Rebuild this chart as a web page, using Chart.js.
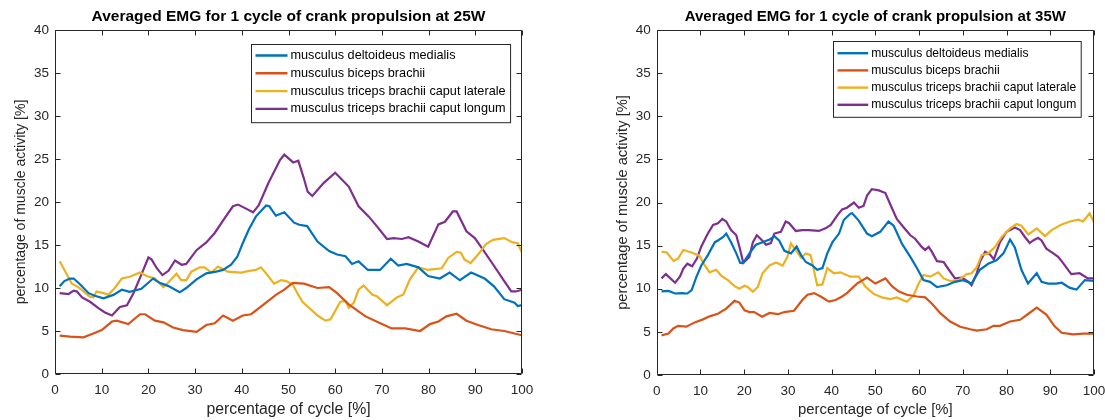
<!DOCTYPE html>
<html>
<head>
<meta charset="utf-8">
<title>Averaged EMG</title>
<script src="https://cdn.jsdelivr.net/npm/chart.js@4/dist/chart.umd.min.js"></script>
<style>
  body { margin: 0; background: #fff; }
  .painel { position: absolute; top: 0; height: 420px; }
</style>
</head>
<body>
<div class="painel" style="left:0;width:552px"><canvas id="grafico25"></canvas></div>
<div class="painel" style="left:552px;width:553px"><canvas id="grafico35"></canvas></div>
<script>
// labels
const nomesMusculos = [
    "musculus deltoideus medialis",
    "musculus biceps brachii",
    "musculus triceps brachii caput laterale",
    "musculus triceps brachii caput longum"
];
const coresMusculos = ['#0072BD', '#D95319', '#EDB120', '#7E2F8E'];
const ticksX = [0, 10, 20, 30, 40, 50, 60, 70, 80, 90, 100];
const ticksY = [0, 5, 10, 15, 20, 25, 30, 35, 40];

// 25W  [percentage of cycle, activity]
const deltoid25 = [[1,10.2],[2,10.8],[3.2,11.1],[4,11.1],[5.4,10.4],[7.2,9.4],[8.5,9.1],[10.4,8.8],[12.5,9.2],[14.3,9.8],[16,9.55],[18.5,9.9],[21,11.1],[22.4,10.6],[24.2,10.25],[26.7,9.5],[28.1,10],[30.3,11],[32.4,11.7],[34.5,11.9],[36,12.1],[37.7,12.7],[39,13.6],[40.2,15.2],[41.5,16.8],[43,18.3],[45.2,19.6],[45.9,19.5],[47.3,18.4],[49.1,18.8],[51.2,17.6],[52.3,17.35],[54,17.2],[56.2,15.4],[58.7,14.3],[60.4,13.9],[62.2,13.7],[63.6,12.8],[65,13.1],[67,12.1],[69.6,12.1],[71.9,13.4],[73.5,12.6],[75.3,12.8],[77.8,12.4],[79.9,11.4],[82.4,11.1],[84.5,11.8],[86.7,10.9],[89.1,11.8],[92,11.1],[94,10.2],[96.2,8.7],[98.4,8.3],[99.1,7.9],[100,8]];
const biceps25 = [[1,4.47],[3.2,4.35],[6.1,4.27],[8.2,4.7],[10,5.1],[12.2,6.1],[13.2,6.2],[15.7,5.8],[18.2,6.95],[19.3,6.95],[21.4,6.2],[23.2,6],[25.3,5.4],[27.4,5.1],[30.3,4.9],[32.4,5.7],[34.2,5.9],[36,6.8],[38.1,6.2],[40.2,6.8],[42,6.95],[44.5,8],[47.3,9.2],[49.1,9.8],[50.9,10.6],[53.3,10.5],[56.2,10],[58.7,10.1],[60.4,9.4],[62.9,8.1],[66.5,6.7],[69.3,6],[72.1,5.3],[75,5.3],[78.2,5],[80.3,5.8],[82.1,6.1],[83.8,6.7],[86,7],[88.1,6.2],[90.6,5.7],[93.4,5.2],[96.2,5],[100,4.5]];
const lateral25 = [[1,13.1],[2.6,11.5],[3.6,10.5],[5,10.1],[6.1,9.6],[7.4,9],[8.2,8.9],[8.9,9.6],[10.4,9.4],[11.4,9.2],[12.8,10],[14.3,11.1],[16,11.3],[18.2,11.8],[19.6,11.4],[21.4,11.1],[23.2,10.1],[24.2,10.6],[26,11.65],[27,10.95],[28.1,10.9],[29.2,11.9],[31,12.4],[32,12.4],[33.5,11.8],[34.9,12.5],[37,11.9],[39.9,11.8],[41.6,12],[43,12.1],[44.1,12.4],[45.2,11.7],[46.9,10.5],[48.4,10.9],[49.5,10.8],[50.9,10.4],[52,9.3],[53,8.4],[54.8,7.5],[56.2,6.8],[57.9,6.2],[59,6.35],[61.1,8.4],[62.2,8.5],[62.9,7.7],[64,8.3],[65,9.8],[66.1,10.3],[67.9,9.25],[68.9,9.05],[71.1,8],[73.2,8.9],[74.6,9.25],[76,11],[77.8,12.4],[79.9,12.1],[82.8,12.3],[84.2,13.5],[86,14.2],[86.9,14.1],[87.7,13.3],[89,12.9],[90.6,13.9],[92.3,15.1],[93.8,15.6],[96.2,15.8],[98,15.3],[99.1,15.2],[100,14.1]];
const longum25 = [[1,9.4],[2.9,9.3],[4,9.7],[4.7,9.6],[5.8,8.9],[7.5,8.4],[9.3,7.65],[10.7,7.15],[12.2,6.8],[13.9,7.8],[15.4,8],[16.8,9.4],[18.6,11.7],[20,13.55],[20.7,13.3],[21.8,12.3],[23,11.5],[24.3,12],[25.7,13.2],[27.1,12.7],[28.1,12.8],[30.3,14.4],[32.4,15.3],[34.2,16.4],[36.3,18.1],[38.1,19.5],[39.2,19.7],[41,19.2],[42.4,18.8],[43.6,19.6],[45.7,22.2],[48.2,24.9],[49.1,25.5],[51,24.6],[52.1,24.8],[53.2,22.9],[54.1,21.2],[55.1,20.7],[57.5,22.2],[60,23.4],[61.1,22.8],[62.9,21.8],[65,19.5],[67.2,18.3],[68.9,17.2],[71.1,15.7],[72.5,15.8],[74.3,15.7],[75.7,15.9],[77.8,15.4],[79.9,14.8],[82.1,17.4],[83.5,17.7],[85.2,18.9],[86,18.9],[88.1,16.6],[89.9,15.8],[91.6,14.5],[94.1,12.5],[96.2,10.8],[97.7,9.6],[98.7,9.6],[100,9.8]];

// 35W
const deltoid35 = [[1.1,9.7],[2.7,9.75],[4.2,9.45],[5.7,9.5],[7,9.45],[8,9.85],[9.1,11.4],[10.2,12.7],[11.7,13.9],[13.3,15.4],[14,15.6],[15.2,16],[15.9,16.4],[17,15.4],[18.2,14.1],[19.1,13],[19.8,13],[21.2,14.1],[22.7,15.1],[24.2,15.4],[25.8,15.7],[26.9,16.1],[28,15.6],[29.2,14.4],[30.7,14.1],[32,14.9],[33,13.9],[34.1,13.1],[35.6,12.7],[36.7,12.2],[37.9,12.4],[39,14.1],[40.2,15.4],[41.7,16.4],[42.8,18],[44.3,18.7],[44.7,18.75],[46.2,17.9],[48.1,16.4],[49.2,16.1],[51.1,16.6],[53,17.8],[54.2,17.3],[56.1,15.2],[58,13.7],[59.5,12.4],[61,11],[62.5,10.8],[64.1,10.2],[66.3,10.4],[68.2,10.8],[70.1,11],[72,10.6],[73.9,12.2],[75.8,12.9],[77.7,13.3],[79.3,14.1],[80.8,15.7],[81.9,14.8],[83.4,12.2],[84.9,10.6],[86.9,11.8],[88,10.8],[89.5,10.6],[91.4,10.6],[92.6,10.7],[94.5,10.1],[96,9.9],[97.9,11],[100,10.9]];
const biceps35 = [[1.1,4.6],[2.7,4.8],[3.8,5.4],[4.9,5.7],[6.8,5.6],[8.7,6.1],[10.6,6.45],[12.1,6.8],[14,7.1],[15.9,7.7],[17.8,8.6],[18.9,8.4],[20.1,7.5],[21.2,7.3],[22.3,7.3],[24.1,6.75],[25.8,7.2],[27.7,7.05],[29.2,7.3],[31.4,7.45],[33.3,8.7],[34.5,9.3],[36,9.5],[37.5,9.1],[39.4,8.5],[40.9,8.7],[42.4,9.1],[43.5,9.5],[45.8,10.6],[48.1,11.3],[50,10.6],[52.3,11.2],[53.8,10.3],[55.3,9.7],[57.2,9.3],[59.5,9.1],[61.4,9],[62.9,8.3],[64.8,7.2],[67.1,6.2],[69.4,5.6],[71.7,5.3],[73.2,5.15],[75.5,5.3],[77,5.7],[78.5,5.7],[80.8,6.2],[83.1,6.4],[85,7.1],[86.9,7.8],[89.1,7],[91,5.65],[92.6,4.9],[95.2,4.7],[97.5,4.8],[100,4.8]];
const lateral35 = [[1.1,14.3],[2.3,14.2],[3.9,13.2],[4.9,13.5],[6.1,14.5],[8,14.2],[9.8,13.8],[11,12.7],[12.1,11.9],[13.6,12.2],[14.8,11.5],[16.3,11],[17.8,10.3],[18.9,10],[20.1,10.35],[20.8,10.2],[22,9.65],[23.1,10.2],[24.2,11.8],[25.8,12.7],[27.3,13.05],[28.8,12.7],[29.9,13.7],[30.7,15.25],[31.8,14.5],[33,13.6],[34.1,14.1],[35.2,13.9],[36.7,10.4],[37.9,10.5],[39,12.4],[40.5,11.8],[42,11.9],[44.3,11.4],[46.2,11.4],[47.7,10.25],[49.6,9.4],[51.5,9],[53.4,8.8],[54.9,9],[57.2,8.5],[58.7,9.2],[59.9,10.6],[61,11.6],[62.5,11.4],[64.4,11.9],[65.6,11.2],[67.1,10.9],[69,11],[70.9,11.7],[72,11.8],[73.2,12.5],[74.3,13.9],[75.8,14.1],[77.3,14.8],[78.9,16],[80.8,17],[82.3,17.5],[83.4,17.3],[85,16.3],[86.9,17],[88.8,16.1],[90.3,16.8],[92.6,17.45],[94.5,17.8],[96.4,18],[97.5,17.8],[99,18.75],[100,17.7]];
const longum35 = [[1.1,11.2],[2.1,11.7],[4.2,10.7],[5.3,11.4],[6.1,12.35],[7,12.9],[8.1,12.6],[9.2,13.5],[10.2,14.9],[11.7,16.4],[12.9,17.4],[14,17.6],[15,18.1],[15.9,17.8],[17,16.8],[18.2,16.2],[19.1,14.5],[19.8,13],[21.2,13.7],[22,15.4],[22.9,16.2],[23.9,15.7],[25,15.1],[26.1,15.3],[26.9,16.4],[28.4,16.6],[29.5,17.8],[30.3,17.6],[31.8,16.7],[33.3,16.8],[34.8,16.8],[37.1,16.7],[38.6,17],[39.8,17.4],[41.3,18.5],[42.4,19.2],[43.5,19.4],[45.1,20],[46.2,19.4],[47.3,19.6],[48.1,20.8],[49.2,21.55],[50.8,21.4],[52.3,21.1],[53.4,19.8],[54.9,18.1],[56.5,17.1],[58,16.2],[59.1,15.8],[60.6,14.85],[61.4,14.5],[62.2,14.85],[62.9,14.3],[64.1,13.2],[65.6,13.1],[67.1,12],[68.2,11.2],[69.8,11.3],[71.3,10.8],[72,10.4],[73.2,11.8],[73.9,13.1],[75.1,14.3],[76.2,14],[77.1,13.4],[78.5,15.4],[80,16.6],[81.9,17.1],[83.1,16.8],[84.2,16],[85.3,15.3],[86.1,15.6],[87.2,15.9],[88,15.6],[89.1,14.65],[90.7,14.1],[91.8,13.7],[92.9,13],[94.8,11.7],[96.7,11.8],[98.6,11.2],[100,11.2]];

const fonte = '"Liberation Sans", Arial, Helvetica, sans-serif';
const corEixo = '#262626';

// caixa dos eixos com ticks para dentro (estilo MATLAB)
const caixaEixos = {
    id: 'caixaEixos',
    afterDatasetsDraw(chart) {
        const ctx = chart.ctx;
        const a = chart.chartArea;
        const x = chart.scales.x, y = chart.scales.y;
        const l = Math.round(a.left) + 0.5, r = Math.round(a.right) - 0.5;
        const t = Math.round(a.top) + 0.5, b = Math.round(a.bottom) - 0.5;
        ctx.save();
        ctx.strokeStyle = corEixo;
        ctx.lineWidth = 1;
        ctx.beginPath();
        ctx.rect(l, t, r - l, b - t);
        ticksX.forEach(v => {
            const px = Math.round(x.getPixelForValue(v)) + 0.5;
            ctx.moveTo(px, b); ctx.lineTo(px, b - 5);
            ctx.moveTo(px, t); ctx.lineTo(px, t + 5);
        });
        ticksY.forEach(v => {
            const py = Math.round(y.getPixelForValue(v)) + 0.5;
            ctx.moveTo(l, py); ctx.lineTo(l + 5, py);
            ctx.moveTo(r, py); ctx.lineTo(r - 5, py);
        });
        ctx.stroke();
        ctx.restore();
    }
};

// legenda dentro do grafico, canto superior direito
const legendaCaixa = {
    id: 'legendaCaixa',
    afterDraw(chart, args, opts) {
        const ctx = chart.ctx;
        const a = chart.chartArea;
        ctx.save();
        ctx.font = opts.tamanho + 'px ' + fonte;
        var largura = 0;
        chart.data.datasets.forEach(d => { largura = Math.max(largura, ctx.measureText(d.label).width); });
        const w = largura + opts.texto + 5;
        const h = opts.linha * chart.data.datasets.length + 7;
        const bx = Math.round(a.right - opts.direita - w) + 0.5;
        const by = Math.round(a.top + opts.topo) + 0.5;
        ctx.fillStyle = '#fff';
        ctx.fillRect(bx, by, w, h);
        ctx.strokeStyle = corEixo;
        ctx.lineWidth = 1;
        ctx.strokeRect(bx, by, w, h);
        ctx.textBaseline = 'middle';
        chart.data.datasets.forEach((d, i) => {
            const cy = by + opts.primeira + i * opts.linha;
            ctx.strokeStyle = d.borderColor;
            ctx.lineWidth = 2.4;
            ctx.beginPath();
            ctx.moveTo(bx + 4, cy);
            ctx.lineTo(bx + opts.texto - 3, cy);
            ctx.stroke();
            ctx.fillStyle = '#000';
            ctx.fillText(d.label, bx + opts.texto, cy);
        });
        ctx.restore();
    }
};

function montarSeries(series) {
    return series.map((s, i) => ({
        label: nomesMusculos[i],
        data: s.map(p => ({ x: p[0], y: p[1] })),
        borderColor: coresMusculos[i],
        backgroundColor: coresMusculos[i],
        borderWidth: 2.2,
        pointRadius: 0,
        tension: 0,
        fill: false
    }));
}

function montarConfig(series, c) {
    return {
        type: 'line',
        data: { datasets: montarSeries(series) },
        plugins: [caixaEixos, legendaCaixa],
        options: {
            responsive: true,
            maintainAspectRatio: false,
            animation: false,
            events: [],
            layout: { padding: { left: c.padEsq, right: c.padDir, top: 0, bottom: 0 } },
            plugins: {
                legend: { display: false },
                tooltip: { enabled: false },
                title: {
                    display: true,
                    text: c.titulo,
                    fullSize: false,
                    color: '#000',
                    font: { family: fonte, size: c.fTitulo, weight: 'bold', lineHeight: 1.2 },
                    padding: { top: 7.5, bottom: 30 - 7.5 - c.fTitulo * 1.2 }
                },
                legendaCaixa: c.legenda
            },
            scales: {
                x: {
                    type: 'linear',
                    min: 0, max: 100,
                    afterFit: s => { s.height = c.altX; s.paddingLeft = 0; s.paddingRight = 0; },
                    afterBuildTicks: s => { s.ticks = ticksX.map(v => ({ value: v })); },
                    grid: { display: false, drawTicks: false },
                    border: { display: false },
                    ticks: { color: corEixo, padding: 8, maxRotation: 0, font: { family: fonte, size: 13.5, lineHeight: 1.2 } },
                    title: {
                        display: true, text: 'percentage of cycle [%]', color: corEixo,
                        font: { family: fonte, size: c.fTituloX, lineHeight: 1.2 },
                        padding: { top: 0, bottom: 1 }
                    }
                },
                y: {
                    type: 'linear',
                    min: 0, max: 40,
                    afterFit: s => { s.width = c.largY; },
                    afterBuildTicks: s => { s.ticks = ticksY.map(v => ({ value: v })); },
                    grid: { display: false, drawTicks: false },
                    border: { display: false },
                    ticks: { color: corEixo, padding: 6, font: { family: fonte, size: 13.5, lineHeight: 1.2 } },
                    title: {
                        display: true, text: 'percentage of muscle activity [%]', color: corEixo,
                        font: { family: fonte, size: c.fTituloY, lineHeight: 1.2 },
                        padding: { top: c.padTituloY, bottom: 0 }
                    }
                }
            }
        }
    };
}

new Chart(document.getElementById('grafico25'), montarConfig(
    [deltoid25, biceps25, lateral25, longum25],
    {
        titulo: 'Averaged EMG for 1 cycle of crank propulsion at 25W',
        fTitulo: 15.5, fTituloX: 15.8, fTituloY: 14, padTituloY: 12.6,
        padEsq: 0, padDir: 30, largY: 55, altX: 46,
        legenda: { tamanho: 12.7, texto: 39, direita: 12, topo: 14, primeira: 11, linha: 17.8 }
    }
));

new Chart(document.getElementById('grafico35'), montarConfig(
    [deltoid35, biceps35, lateral35, longum35],
    {
        titulo: 'Averaged EMG for 1 cycle of crank propulsion at 35W',
        fTitulo: 15, fTituloX: 14.9, fTituloY: 14.7, padTituloY: 12.2,
        padEsq: 50, padDir: 11, largY: 54.7, altX: 45,
        legenda: { tamanho: 12.1, texto: 37.7, direita: 13.3, topo: 11, primeira: 11.7, linha: 17.2 }
    }
));
</script>
</body>
</html>
